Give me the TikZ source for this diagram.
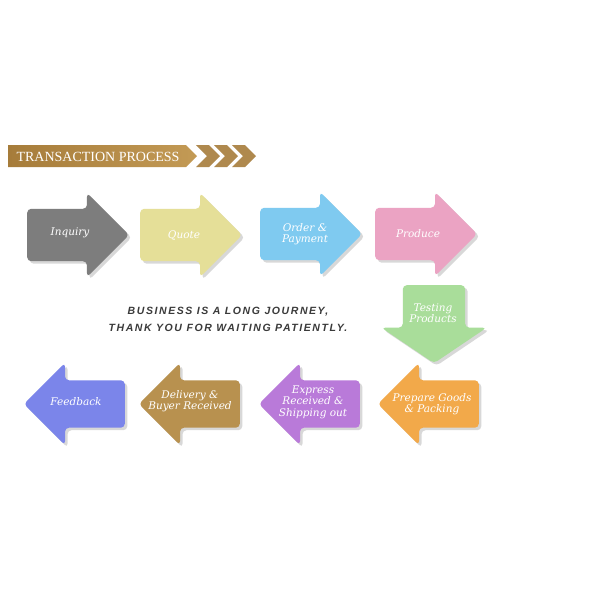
\documentclass[tikz,border=0pt]{standalone}
\usepackage{fontspec}
\setmainfont{DejaVu Serif}
\newfontfamily\bannerfont{Liberation Serif}
\newfontfamily\mottofont[LetterSpace=15]{Liberation Sans}
\usetikzlibrary{shapes.arrows,shadows,positioning}

\definecolor{inqgray}{HTML}{7D7D7D}
\definecolor{quoteyellow}{HTML}{E5DF98}
\definecolor{orderblue}{HTML}{7FCAF0}
\definecolor{producepink}{HTML}{EBA3C3}
\definecolor{testgreen}{HTML}{A9DD9A}
\definecolor{packorange}{HTML}{F2A94A}
\definecolor{shippurple}{HTML}{B97AD9}
\definecolor{delivbrown}{HTML}{B8914F}
\definecolor{feedviolet}{HTML}{7B85EA}
\definecolor{bannerdark}{HTML}{A67C3A}
\definecolor{bannerlight}{HTML}{C39A55}
\definecolor{mottogray}{HTML}{3A3A3A}

\tikzset{
  stepshape/.style={single arrow, fill=#1, draw=none, inner xsep=0pt,
    rounded corners=4pt, single arrow tip angle=90,
    drop shadow={shadow xshift=2.5pt, shadow yshift=-2.5pt, opacity=0.3}},
  toparrow/.style={stepshape=#1, minimum height=102pt, inner ysep=26pt,
    single arrow head extend=16pt, anchor=tail},
  backarrow/.style={stepshape=#1, minimum height=101pt, inner ysep=23.5pt,
    single arrow head extend=17.5pt, shape border rotate=180, anchor=tail},
  steplabel/.style={text=white, align=center, inner sep=0pt,
    font=\fontsize{10.5}{11.5}\selectfont\itshape},
}

\begin{document}
\begin{tikzpicture}[x=1pt,y=-1pt]
    \useasboundingbox[fill=white] (0,0) rectangle (600,600);
    % Banner
    \shade[left color=bannerdark, right color=bannerlight]
      (8,145) -- (186,145) -- (197,156) -- (186,167) -- (8,167) -- cycle;
    \foreach \cx in {196,214,232}
      \fill[bannerdark!90!white] (\cx,145) -- (\cx+13,145) -- (\cx+24,156)
        -- (\cx+13,167) -- (\cx,167) -- (\cx+11,156) -- cycle;
    \node[text=white, font=\bannerfont\fontsize{14}{14}\selectfont] (title) at (98,156.5) {TRANSACTION PROCESS};

    % Top row
    \node[toparrow=inqgray] (inquiry) at (27,235) {};
    \node[steplabel] (inquirytext) at (70,233) {Inquiry};
    \node[toparrow=quoteyellow] (quote) at (140,235) {};
    \node[steplabel] (quotetext) at (184,235) {Quote};
    \node[toparrow=orderblue] (order) at (260,234) {};
    \node[steplabel] (ordertext) at (305,234) {Order \&\\Payment};
    \node[toparrow=producepink] (produce) at (375,234) {};
    \node[steplabel] (producetext) at (418,234) {Produce};

    % Down
    \node[stepshape=testgreen, minimum height=78pt, inner xsep=31pt, inner ysep=0pt,
      single arrow head extend=21.5pt, single arrow tip angle=112,
      shape border rotate=270, anchor=tail] (testing) at (434,285) {};
    \node[steplabel] (testingtext) at (433,313) {Testing\\Products};

    % Bottom row
    \node[backarrow=packorange] (packing) at (479,404) {};
    \node[steplabel] (packingtext) at (432,404) {Prepare Goods\\\& Packing};
    \node[backarrow=shippurple] (shipping) at (360,404) {};
    \node[steplabel] (shippingtext) at (313,402) {Express\\Received \&\\Shipping out};
    \node[backarrow=delivbrown] (delivery) at (240,404) {};
    \node[steplabel] (deliverytext) at (190,401) {Delivery \&\\Buyer Received};
    \node[backarrow=feedviolet] (feedback) at (125,404) {};
    \node[steplabel] (feedbacktext) at (76,402) {Feedback};

    % Motto
    \node[font=\mottofont\bfseries\itshape\fontsize{10.5}{17}\selectfont,
      text=mottogray, align=center] (motto) at (228,319.5)
      {BUSINESS IS A LONG JOURNEY,\\THANK YOU FOR WAITING PATIENTLY.};
\end{tikzpicture}
\end{document}
